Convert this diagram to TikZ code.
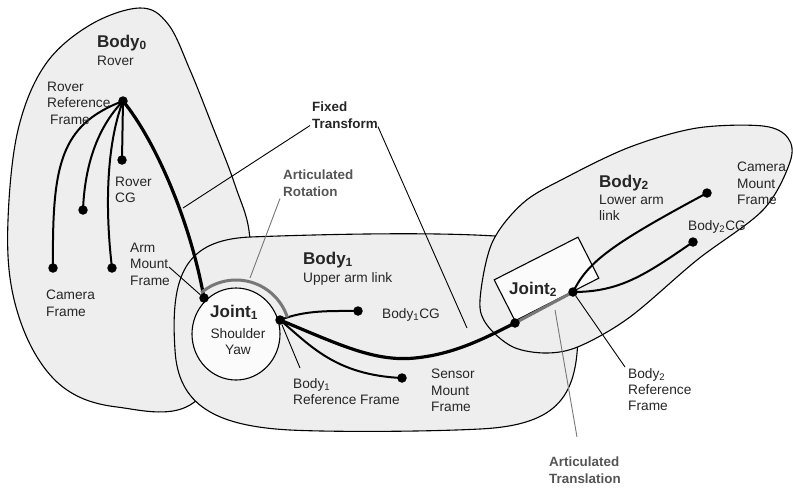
\documentclass[tikz,border=0pt]{standalone}
\usepackage{fontspec}
\setmainfont{Liberation Sans}
\usetikzlibrary{shapes.geometric,calc}
\definecolor{bodyfill}{HTML}{EEEEEE}
\definecolor{jointfill}{HTML}{FBFBFB}
\definecolor{ink}{HTML}{262626}
\definecolor{notegray}{HTML}{555555}
\definecolor{artgray}{HTML}{777777}
\pgfdeclarelayer{bg}
\pgfdeclarelayer{wires}
\pgfsetlayers{bg,wires,main}
\begin{document}
\begin{tikzpicture}[x=1pt,y=-1pt,
  blob/.style={draw=black, line width=1.1pt, fill=bodyfill},
  jointshape/.style={draw=black, line width=1.1pt, fill=jointfill, inner sep=0pt},
  lbl/.style={inner sep=0pt, anchor=north west, align=left, text=ink,
    font=\fontsize{13.7}{16.3}\selectfont},
  onelbl/.style={inner sep=0pt, anchor=base west, text=ink,
    font=\fontsize{13.7}{16.3}\selectfont},
  ttl/.style={inner sep=0pt, anchor=base west, text=ink,
    font=\fontsize{17}{20}\selectfont\bfseries},
  note/.style={inner sep=0pt, anchor=north west, align=left,
    font=\fontsize{13.4}{16.3}\selectfont\bfseries},
  dot/.style={circle, fill=black, inner sep=0pt, minimum size=9.5pt},
  link/.style={line width=2pt, black},
  heavy/.style={line width=3.2pt, black},
  leader/.style={line width=0.9pt, black},
  gleader/.style={line width=0.9pt, artgray},
  artic/.style={line width=3pt, artgray},
]
\useasboundingbox (0,0) rectangle (793,488);

% ---------- bodies and joints ----------
\begin{pgfonlayer}{bg}
\fill[white] (0,0) rectangle (793,488);
% Body 0 (rover)
\draw[blob] plot[smooth cycle, tension=0.6] coordinates {
  (140,8) (168,24) (190,70) (212,125) (235,185) (250,240) (245,330)
  (190,405) (117,407) (67,390) (33,350) (12,290) (8,220) (18,130)
  (45,65) (90,25)};
% Body 1 (upper arm link)
\draw[blob] (250,237) .. controls (330,234) and (430,232) .. (495,236)
  .. controls (555,240) and (578,270) .. (578,330)
  .. controls (578,395) and (560,425) .. (480,429)
  .. controls (420,432) and (330,432) .. (290,430)
  .. controls (215,426) and (178,405) .. (175,350)
  .. controls (170,275) and (185,240) .. (250,237) -- cycle;
% Body 2 (lower arm link)
\draw[blob] plot[smooth cycle, tension=0.55] coordinates {
  (480,300) (492,243) (523,203) (565,178) (630,147) (697,128) (763,126)
  (788,138) (790,162) (763,210) (697,260) (630,317) (580,346) (547,353)
  (513,347) (487,325)};
% joints
\node[jointshape, ellipse, minimum width=88pt, minimum height=92pt] (j1) at (236,334) {};
\node[jointshape, rectangle, rotate=27, minimum width=94pt, minimum height=46pt] (j2) at (546.5,279) {};
\end{pgfonlayer}

% ---------- frames ----------
\node[dot] (rref) at (123,101) {};
\node[dot] (rcg)  at (122,160) {};
\node[dot] (camf) at (53,268) {};
\node[dot] (dm)   at (83,210) {};
\node[dot] (dr)   at (112,268) {};
\node[dot] (amf)  at (204,298) {};
\node[dot] (b1ref) at (280,320) {};
\node[dot] (b1cg) at (358,311) {};
\node[dot] (smf)  at (402,378) {};
\node[dot] (j2pt) at (515,323) {};
\node[dot] (b2ref) at (573,292) {};
\node[dot] (b2cg) at (693,242) {};
\node[dot] (cmf)  at (707,193) {};

% ---------- transforms between frames ----------
\begin{pgfonlayer}{wires}
\draw[link] (rref.center) .. controls (60,125) and (52,165) .. (camf.center);
\draw[link] (rref.center) .. controls (100,125) and (85,160) .. (dm.center);
\draw[link] (rref.center) .. controls (108,140) and (104,200) .. (dr.center);
\draw[link] (rref.center) -- (rcg.center);
\draw[heavy] (rref.center) .. controls (155,140) and (190,220) .. (amf.center);
\draw[link] (b1ref.center) .. controls (305,310) and (330,311) .. (b1cg.center);
\draw[link] (b1ref.center) .. controls (310,345) and (335,375) .. (smf.center);
\draw[heavy] (b1ref.center) .. controls (340,345) and (375,362) .. (415,358)
  .. controls (455,354) and (485,338) .. (j2pt.center);
\draw[artic] (j2pt.center) -- (b2ref.center);
\draw[link] (b2ref.center) .. controls (588,262) and (610,245) .. (cmf.center);
\draw[link] (b2ref.center) .. controls (620,292) and (645,275) .. (b2cg.center);
\draw[artic] ($(j1.center)+(-130:54)$) arc[start angle=-130, end angle=-18, radius=54];
\end{pgfonlayer}

% ---------- labels ----------
\node[ttl] (b0t) at (97,47) {Body\textsubscript{0}};
\node[lbl] (b0s) at (97,56) {Rover};
\node[lbl] (rrefl) at (47,82) {Rover\\Reference\\\hspace{3pt}Frame};
\node[lbl] (rcgl) at (115,177) {Rover\\CG};
\node[lbl] (camfl) at (46,290) {Camera\\Frame};
\node[lbl] (amfl) at (130,243) {Arm\\Mount\\Frame};

\node[ttl] (b1t) at (303,264) {Body\textsubscript{1}};
\node[lbl] (b1s) at (303,272) {Upper arm link};
\node[ttl] (j1t) at (210,317) {Joint\textsubscript{1}};
\node[lbl, anchor=north, align=center] (j1s) at (238,328) {Shoulder\\Yaw};
\node[onelbl] (b1cgl) at (382,318.6) {Body\textsubscript{1}CG};
\node[lbl] (b1refl) at (293,378) {Body\textsubscript{1}\\Reference Frame};
\node[lbl] (smfl) at (431,369) {Sensor\\Mount\\Frame};

\node[ttl] (j2t) at (509,294) {Joint\textsubscript{2}};
\node[ttl] (b2t) at (599,187) {Body\textsubscript{2}};
\node[lbl] (b2s) at (599,195) {Lower arm\\link};
\node[onelbl] (b2cgl) at (688,230.6) {Body\textsubscript{2}CG};
\node[lbl] (cmfl) at (737,162) {Camera\\Mount\\Frame};
\node[lbl] (b2refl) at (628,368) {Body\textsubscript{2}\\Reference\\Frame};

\node[note, text=ink] (fixed) at (312,102) {Fixed\\Transform};
\node[note, text=notegray] (rot) at (283,170) {Articulated\\Rotation};
\node[note, text=notegray] (trans) at (549,457) {Articulated\\Translation};

% ---------- leader lines ----------
\coordinate (fxa) at (183,208);
\coordinate (fxb) at (467,328);
\coordinate (rota) at (250,278);
\coordinate (trna) at (555,310);
\draw[leader] ($(fixed.south west)+(-2,-3)$) -- (fxa);
\draw[leader] ($(fixed.south east)+(0,-2)$) -- (fxb);
\draw[gleader] ($(rot.south west)+(-3,2)$) -- (rota);
\draw[gleader] ($(trans.north west)+(28,-20)$) -- (trna);
\draw[leader] ($(amfl.north east)+(-1,24)$) -- (amf);
\draw[leader] ($(b1refl.north west)+(7,-10)$) -- (b1ref);
\draw[leader] ($(b2refl.north west)+(-3,-1)$) -- (b2ref);
\end{tikzpicture}
\end{document}
